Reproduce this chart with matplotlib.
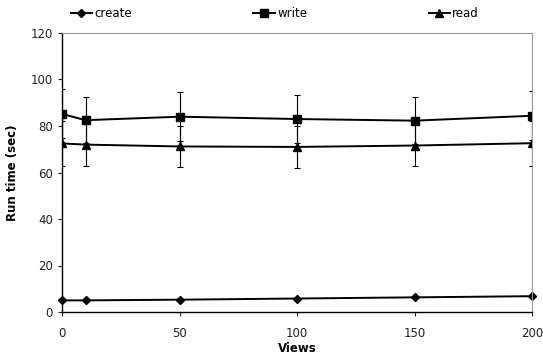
import numpy as np
import matplotlib
matplotlib.use("Agg")
import matplotlib.pyplot as plt
from matplotlib.lines import Line2D

views = [0, 10, 50, 100, 150, 200]
create = [5.0, 5.0, 5.3, 5.8, 6.3, 6.8]
write = [85.2, 82.5, 84.0, 83.0, 82.3, 84.4]
read = [72.5, 72.0, 71.2, 71.0, 71.6, 72.6]
write_err = [10.5, 10.0, 10.5, 10.5, 10.0, 10.5]
read_err = [9.5, 9.3, 9.0, 9.0, 9.0, 9.6]

plt.rcParams['font.family'] = ['DejaVu Sans']
fig = plt.figure(figsize=(5.43, 3.62), dpi=100)
ax = fig.add_axes([62 / 543, 1 - 312 / 362, 470 / 543, 279 / 362])

ax.plot(views, create, color='black', marker='D', markersize=4, lw=1.4, clip_on=False)
ax.errorbar(views, write, yerr=write_err, color='black', marker='s', markersize=6,
            lw=1.4, elinewidth=0.8, capsize=2.5, capthick=0.8)
ax.errorbar(views, read, yerr=read_err, color='black', marker='^', markersize=6,
            lw=1.4, elinewidth=0.8, capsize=2.5, capthick=0.8)

ax.set_xlim(0, 200)
ax.set_ylim(0, 120)
ax.set_xticks([0, 50, 100, 150, 200])
ax.set_yticks(range(0, 121, 20))
ax.tick_params(labelsize=8.5, colors='#222222', length=3, width=0.8)
ax.tick_params(axis='x', pad=8)
for s in ['top', 'right']:
    ax.spines[s].set_color('#999999')
for s in ['left', 'bottom']:
    ax.spines[s].set_color('black')
    ax.spines[s].set_linewidth(1.0)

ax.set_xlabel('Views', fontsize=8.5, fontweight='bold', labelpad=1)
ax.set_ylabel('Run time (sec)', fontsize=8.5, fontweight='bold', labelpad=8)

handles = [Line2D([], [], color='black', marker=m, markersize=ms, lw=1.4)
           for m, ms in [('D', 4), ('s', 6), ('^', 6)]]
labels = ['create', 'write', 'read']
fig.legend(handles, labels, loc='upper left', bbox_to_anchor=(60 / 543, 1.01), ncol=3,
           frameon=False, fontsize=8.5, columnspacing=10.3, handlelength=1.8,
           handletextpad=0.2)

fig.savefig('out.png', dpi=100)
